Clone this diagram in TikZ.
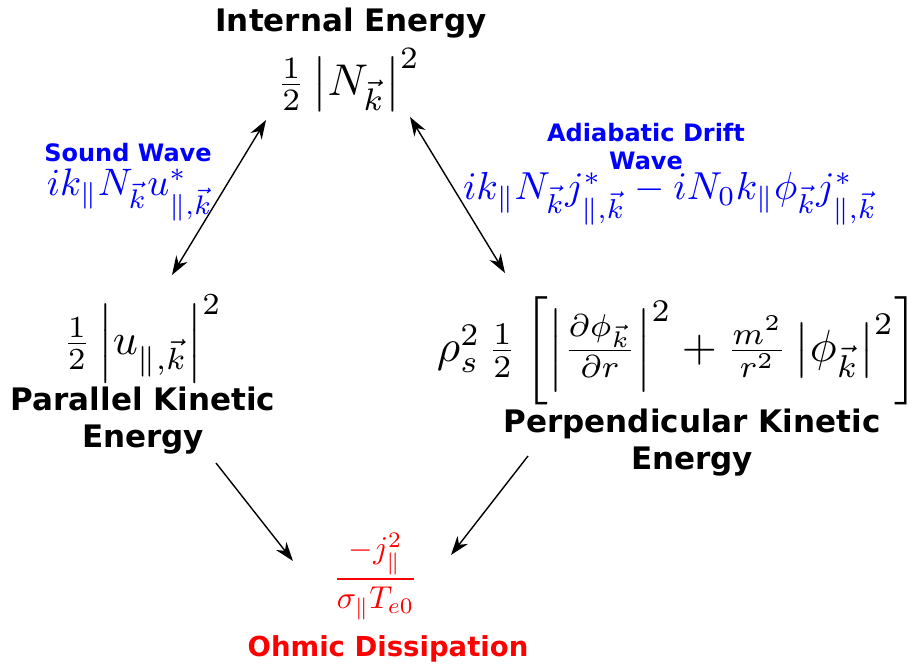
\documentclass[tikz,border=0pt]{standalone}
\usepackage{fontspec}
\usepackage{amsmath}
\newfontfamily\dvs{DejaVu Sans}
\usetikzlibrary{arrows.meta}
\definecolor{pblue}{RGB}{0,0,255}
\definecolor{pred}{RGB}{255,0,0}
\begin{document}
\begin{tikzpicture}[x=1pt,y=-1pt,
  title/.style={font=\dvs\bfseries\fontsize{31}{37}\selectfont, inner sep=0pt, anchor=base, align=center},
  wave/.style={font=\dvs\bfseries\fontsize{24}{28}\selectfont, inner sep=0pt, anchor=base, align=center, text=pblue},
  eq/.style={inner sep=0pt, anchor=center},
  flow/.style={line width=1.4pt, -{Stealth[length=19pt,width=13pt,inset=6pt]}},
  both/.style={line width=1.4pt, {Stealth[length=19pt,width=13pt,inset=6pt]}-{Stealth[length=19pt,width=13pt,inset=6pt]}}]
\useasboundingbox (0,0) rectangle (921,666);
\fill[white] (0,0) rectangle (921,666);
% titles (base anchor = baseline of last line)
\node[title] (tInt) at (351,32) {Internal Energy};
\node[title] (tPar) at (143,447) {Parallel Kinetic\\Energy};
\node[title] (tPerp) at (692,469) {Perpendicular Kinetic\\Energy};
\node[title, font=\dvs\bfseries\fontsize{27.5}{33}\selectfont, text=pred] (tOhm) at (388,656) {Ohmic Dissipation};
\node[wave] (tSnd) at (128,161) {Sound Wave};
\node[wave] (tAdi) at (646,169) {Adiabatic Drift\\Wave};
% equations
\node[eq] (eN) at (348.5,80) {\resizebox{143pt}{!}{$\tfrac{1}{2}\left|N_{\vec{k}}\right|^{2}$}};
\node[eq, text=pblue] (eS) at (130,195) {\resizebox{166pt}{!}{$ik_{\parallel}N_{\vec{k}}u^{*}_{\parallel,\vec{k}}$}};
\node[eq, text=pblue] (eA) at (670,199) {\resizebox{414pt}{!}{$ik_{\parallel}N_{\vec{k}}j^{*}_{\parallel,\vec{k}}-iN_{0}k_{\parallel}\phi_{\vec{k}}j^{*}_{\parallel,\vec{k}}$}};
\node[eq] (eP) at (142.5,339) {\resizebox{159pt}{!}{$\tfrac{1}{2}\left|u_{\parallel,\vec{k}}\right|^{2}$}};
\node[eq] (eR) at (677.5,350.5) {\resizebox{481pt}{!}{$\rho_s^{2}\,\tfrac{1}{2}\left[\left|\tfrac{\partial\phi_{\vec{k}}}{\partial r}\right|^{2}+\tfrac{m^{2}}{r^{2}}\left|\phi_{\vec{k}}\right|^{2}\right]$}};
\node[eq, text=pred] (eO) at (375.5,576.5) {\resizebox{85pt}{!}{$\dfrac{-j_{\parallel}^{2}}{\sigma_{\parallel}T_{e0}}$}};
% arrow ends
\coordinate (s1) at (172,275);
\coordinate (s2) at (266,120);
\coordinate (a1) at (410,117);
\coordinate (a2) at (505,273);
\coordinate (p1) at (216,463);
\coordinate (p2) at (293,561);
\coordinate (q1) at (528,456);
\coordinate (q2) at (451,555);
\draw[both] (s1) -- (s2);
\draw[both] (a1) -- (a2);
\draw[flow] (p1) -- (p2);
\draw[flow] (q1) -- (q2);
\end{tikzpicture}
\end{document}
